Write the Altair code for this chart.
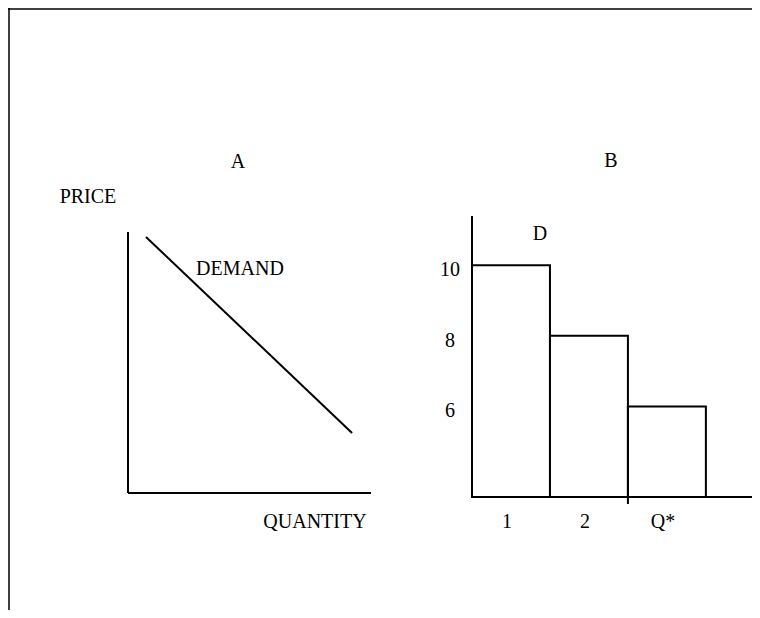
import altair as alt
import pandas as pd

W, H = 744, 602
FONT = "Liberation Serif"
FS = 20

# ---- Panel A: demand curve ----
demand_q = [0.74, 9.22]
demand_p = [9.81, 2.30]
qa_domain = [0, 10]
pa_domain = [0, 10]

# ---- Panel B: step demand ----
units = ["1", "2", "Q*"]
prices = [10, 8, 6]
qb_domain = [0, 3.63]
pb_domain = [3.43, 11.40]

xA = alt.Scale(domain=qa_domain, range=[120, 363])
yA = alt.Scale(domain=pa_domain, range=[485, 224])
xB = alt.Scale(domain=qb_domain, range=[464, 747])
yB = alt.Scale(domain=pb_domain, range=[489, 208])

blk = "black"

# frame
frame = alt.layer(
    alt.Chart(pd.DataFrame({"a": [0]})).mark_rule(color=blk, strokeWidth=1.5).encode(
        x=alt.value(0), x2=alt.value(W), y=alt.value(1)),
    alt.Chart(pd.DataFrame({"a": [0]})).mark_rule(color=blk, strokeWidth=1.5).encode(
        x=alt.value(1), y=alt.value(0), y2=alt.value(H)),
)

# panel A
axesA = pd.DataFrame({"q": [qa_domain[0], qa_domain[0]], "p": [pa_domain[0], pa_domain[0]],
                      "q2": [qa_domain[0], qa_domain[1]], "p2": [pa_domain[1], pa_domain[0]]})
ruleA = alt.Chart(axesA).mark_rule(color=blk, strokeWidth=2).encode(
    x=alt.X("q:Q", scale=xA, axis=None), y=alt.Y("p:Q", scale=yA, axis=None),
    x2="q2:Q", y2="p2:Q")
demandA = alt.Chart(pd.DataFrame({"q": demand_q, "p": demand_p})).mark_line(
    color=blk, strokeWidth=2).encode(
    x=alt.X("q:Q", scale=xA, axis=None), y=alt.Y("p:Q", scale=yA, axis=None))
panelA = alt.layer(ruleA, demandA)

# panel B
bars = pd.DataFrame({
    "unit": units,
    "q0": list(range(len(units))),
    "q1": [i + 1 for i in range(len(units))],
    "price": prices,
})
bars["mid"] = (bars["q0"] + bars["q1"]) / 2
bars["base"] = pb_domain[0]

axesB = pd.DataFrame({"q": [qb_domain[0], qb_domain[0]], "p": [pb_domain[0], pb_domain[0]],
                      "q2": [qb_domain[0], qb_domain[1]], "p2": [pb_domain[1], pb_domain[0]]})
ruleB = alt.Chart(axesB).mark_rule(color=blk, strokeWidth=2).encode(
    x=alt.X("q:Q", scale=xB, axis=None), y=alt.Y("p:Q", scale=yB, axis=None),
    x2="q2:Q", y2="p2:Q")
rectB = alt.Chart(bars).mark_rect(fillOpacity=0, stroke=blk, strokeWidth=2).encode(
    x=alt.X("q0:Q", scale=xB, axis=None), x2="q1:Q",
    y=alt.Y("price:Q", scale=yB, axis=None), y2="base:Q")
tickB = alt.Chart(bars.iloc[[1]]).mark_rule(color=blk, strokeWidth=2).encode(
    x=alt.X("q1:Q", scale=xB, axis=None), y=alt.Y("base:Q", scale=yB, axis=None),
    y2=alt.value(496))
priceLab = alt.Chart(bars).mark_text(font=FONT, fontSize=FS, color=blk, align="center",
                                     baseline="middle", dy=5).encode(
    text="price:Q", x=alt.value(442), y=alt.Y("price:Q", scale=yB, axis=None))
unitLab = alt.Chart(bars).mark_text(font=FONT, fontSize=FS, color=blk, align="center",
                                    baseline="middle", dx=-4).encode(
    text="unit:N", x=alt.X("mid:Q", scale=xB, axis=None), y=alt.value(514))
panelB = alt.layer(ruleB, rectB, tickB, priceLab, unitLab)


def label(txt, x, y):
    return alt.Chart(pd.DataFrame({"t": [txt]})).mark_text(
        font=FONT, fontSize=FS, color=blk, align="center", baseline="middle").encode(
        text="t:N", x=alt.value(x), y=alt.value(y))


notes = alt.layer(
    label("A", 230, 154),
    label("PRICE", 80, 189),
    label("DEMAND", 232, 261),
    label("QUANTITY", 307, 514),
    label("B", 603, 153),
    label("D", 532, 226),
)

chart = alt.layer(frame, panelA, panelB, notes).resolve_scale(
    x="independent", y="independent"
).properties(
    width=W, height=H, padding=0, autosize="none", background="white"
).configure_view(stroke=None)

chart.save("out.html", embed_options={"renderer": "svg", "actions": False})
